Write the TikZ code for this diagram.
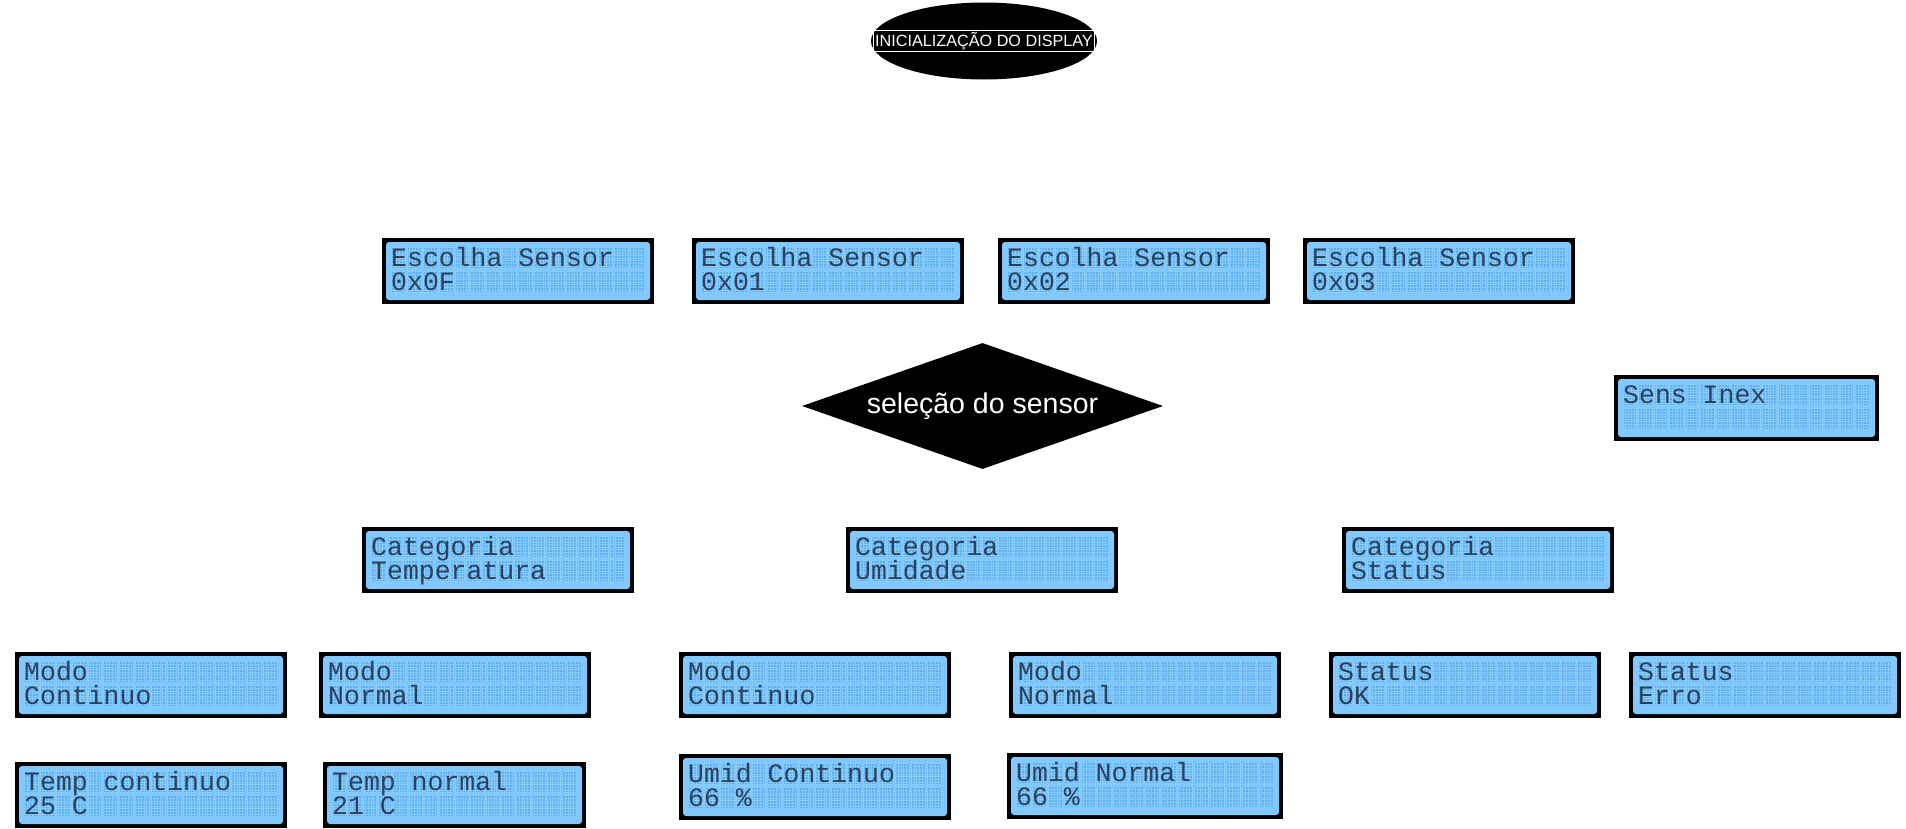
\documentclass[tikz,border=0pt]{standalone}
\usepackage{fontspec}
\usetikzlibrary{shapes.geometric}

\newfontfamily\lcdfont{Liberation Mono}
\newfontfamily\flowfont{Liberation Sans}

\definecolor{lcdpanel}{RGB}{128,200,255}
\definecolor{lcdcell}{RGB}{92,176,236}
\definecolor{lcdseam}{RGB}{134,203,251}
\definecolor{lcdink}{RGB}{44,64,92}

\tikzset{
  lcdframe/.style={rectangle, fill=black, minimum height=66pt, inner sep=0pt, outer sep=0pt},
  lcdtext/.style={anchor=base west, inner sep=0pt, text=lcdink, font=\lcdfont\fontsize{26.5}{26.5}\selectfont},
  inicio/.style={ellipse, fill=black, minimum width=226pt, minimum height=77pt, inner sep=0pt},
  iniciotxt/.style={draw=white, line width=0.8pt, text=white, inner xsep=1.5pt, inner ysep=1.5pt, font=\flowfont\fontsize{16.2}{16.2}\selectfont},
  decisao/.style={diamond, fill=black, text=white, shape aspect=2.87, minimum width=361pt, minimum height=126pt, inner sep=0pt, font=\flowfont\fontsize{28.5}{28.5}\selectfont}
}

% 16x2 display: [width] name, top left corner, line 1, line 2
\newcommand{\lcd}[5][272]{%
  \node[lcdframe, minimum width=#1pt, anchor=north west] (#2) at (#3) {};
  \fill[lcdpanel, rounded corners=3pt] ([shift={(4pt,-4pt)}]#2.north west) rectangle ([shift={(-4pt,4pt)}]#2.south east);
  \pgfmathsetmacro\cstep{(#1-17)/16}
  \pgfmathsetmacro\cw{\cstep-2}
  \pgfmathsetmacro\dx{\cw/5}
  \foreach \c in {0,...,15}{
    \foreach \t in {9.5,33.5}{
      \path ([shift={(9pt+\c*\cstep pt,-\t pt)}]#2.north west) coordinate (cell);
      \fill[lcdcell] (cell) rectangle ++(\cw pt,-21pt);
      \draw[lcdseam, line width=0.5pt, shift={(cell)}, xstep=\dx pt, ystep=2.625pt] (0pt,0pt) grid (\cw pt,-21pt);
    }
  }
  \node[lcdtext] (#2-l1) at ([shift={(9pt,-28pt)}]#2.north west) {#4};
  \node[lcdtext] (#2-l2) at ([shift={(9pt,-52pt)}]#2.north west) {#5};
}

\begin{document}
\begin{tikzpicture}[x=1pt,y=-1pt]
  \useasboundingbox (0,0) rectangle (1906,828);

  \draw (984,41) node[inicio] (init) {};
  \draw (init.center) node[iniciotxt] (initlabel) {INICIALIZAÇÃO DO DISPLAY};

  \lcd{sel0F}{382,238}{Escolha Sensor}{0x0F}
  \lcd{sel01}{692,238}{Escolha Sensor}{0x01}
  \lcd{sel02}{998,238}{Escolha Sensor}{0x02}
  \lcd{sel03}{1303,238}{Escolha Sensor}{0x03}

  \draw (982.5,406) node[decisao] (selecao) {seleção do sensor};
  \lcd[265]{inex}{1614,375}{Sens Inex}{}

  \lcd{catTemp}{362,527}{Categoria}{Temperatura}
  \lcd{catUmid}{846,527}{Categoria}{Umidade}
  \lcd{catStatus}{1342,527}{Categoria}{Status}

  \lcd{tempCont}{15,652}{Modo}{Continuo}
  \lcd{tempNorm}{319,652}{Modo}{Normal}
  \lcd{umidCont}{679,652}{Modo}{Continuo}
  \lcd{umidNorm}{1009,652}{Modo}{Normal}
  \lcd{statOk}{1329,652}{Status}{OK}
  \lcd{statErro}{1629,652}{Status}{Erro}

  \lcd{tempContVal}{15,762}{Temp continuo}{25 C}
  \lcd[263]{tempNormVal}{323,762}{Temp normal}{21 C}
  \lcd{umidContVal}{679,754}{Umid Continuo}{66 \%}
  \lcd[276]{umidNormVal}{1007,753}{Umid Normal}{66 \%}

\end{tikzpicture}
\end{document}
